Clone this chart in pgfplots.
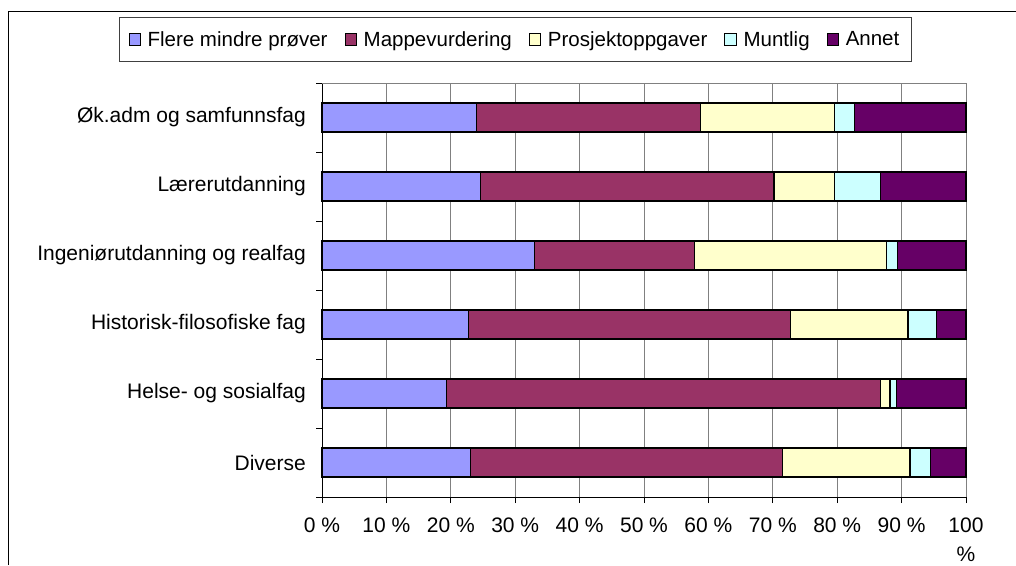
\documentclass[border=0pt]{standalone}
\usepackage{pgfplots}
\pgfplotsset{compat=1.18}
\usepackage{fontspec}
\setmainfont{Liberation Sans}
\definecolor{cA}{HTML}{9999FF}
\definecolor{cB}{HTML}{993366}
\definecolor{cC}{HTML}{FFFFCC}
\definecolor{cD}{HTML}{CCFFFF}
\definecolor{cE}{HTML}{660066}
\definecolor{gridgray}{HTML}{808080}
\begin{document}
\begin{tikzpicture}[x=1pt,y=1pt]
\useasboundingbox (0,0) rectangle (1016,565);
\draw[black, line width=1pt] (8,0) -- (8,553) -- (1016,553);
\begin{axis}[
  at={(322pt,68pt)}, anchor=south west,
  scale only axis, width=644pt, height=414pt,
  xbar stacked, bar width=29pt,
  xmin=0, xmax=100, ymin=-0.5, ymax=5.5,
  axis x line*=bottom, axis y line*=left,
  axis line style={black, line width=1pt},
  xtick={0,10,...,100},
  xticklabels={0 \%,10 \%,20 \%,30 \%,40 \%,50 \%,60 \%,70 \%,80 \%,90 \%,{100\\\%}},
  xticklabel style={align=center, font=\fontsize{21}{29}\selectfont, inner sep=0pt, yshift=-15pt},
  xmajorgrids, major grid style={gridgray, line width=1pt},
  ytick={0,...,5},
  yticklabels={Diverse, Helse- og sosialfag, Historisk-filosofiske fag, Ingeniørutdanning og realfag, Lærerutdanning, Øk.adm og samfunnsfag},
  yticklabel style={font=\fontsize{21}{24}\selectfont, inner sep=0pt, xshift=-10pt},
  minor ytick={-0.5,0.5,...,5.5},
  every major y tick/.style={draw=none},
  tick align=outside, major tick length=6pt, minor tick length=6pt,
  tick style={black, line width=1pt},
  legend columns=5,
  legend cell align=left,
  legend image code/.code={\draw[#1, draw=black, line width=1pt] (0pt,-5.8pt) rectangle (11.6pt,5.8pt);},
  legend style={at={(axis description cs:-0.3152,1.1594)}, anchor=north west,
    draw=black!75, line width=1pt, fill=white,
    font=\fontsize{20.5}{24}\selectfont,
    inner xsep=9pt, inner ysep=12pt,
    nodes={inner xsep=3pt},
    /tikz/every odd column/.append style={column sep=3.5pt},
    /tikz/every even column/.append style={column sep=14pt}},
  clip=false,
]
\draw[gridgray, line width=1pt] (rel axis cs:0,1) -- (rel axis cs:1,1);
\addplot[fill=cA, draw=black, line width=1.2pt] coordinates {(23.0,0) (19.3,1) (22.8,2) (33.0,3) (24.6,4) (24.0,5)};
\addlegendentry{Flere mindre prøver}
\addplot[fill=cB, draw=black, line width=1.2pt] coordinates {(48.5,0) (67.4,1) (49.9,2) (24.9,3) (45.6,4) (34.75,5)};
\addlegendentry{Mappevurdering}
\addplot[fill=cC, draw=black, line width=1.2pt] coordinates {(19.8,0) (1.5,1) (18.3,2) (29.8,3) (9.4,4) (20.85,5)};
\addlegendentry{Prosjektoppgaver}
\addplot[fill=cD, draw=black, line width=1.2pt] coordinates {(3.2,0) (1.0,1) (4.4,2) (1.6,3) (7.1,4) (3.1,5)};
\addlegendentry{Muntlig}
\addplot[fill=cE, draw=black, line width=1.2pt] coordinates {(5.5,0) (10.8,1) (4.6,2) (10.7,3) (13.3,4) (17.3,5)};
\addlegendentry{Annet}
\end{axis}
\end{tikzpicture}
\end{document}
